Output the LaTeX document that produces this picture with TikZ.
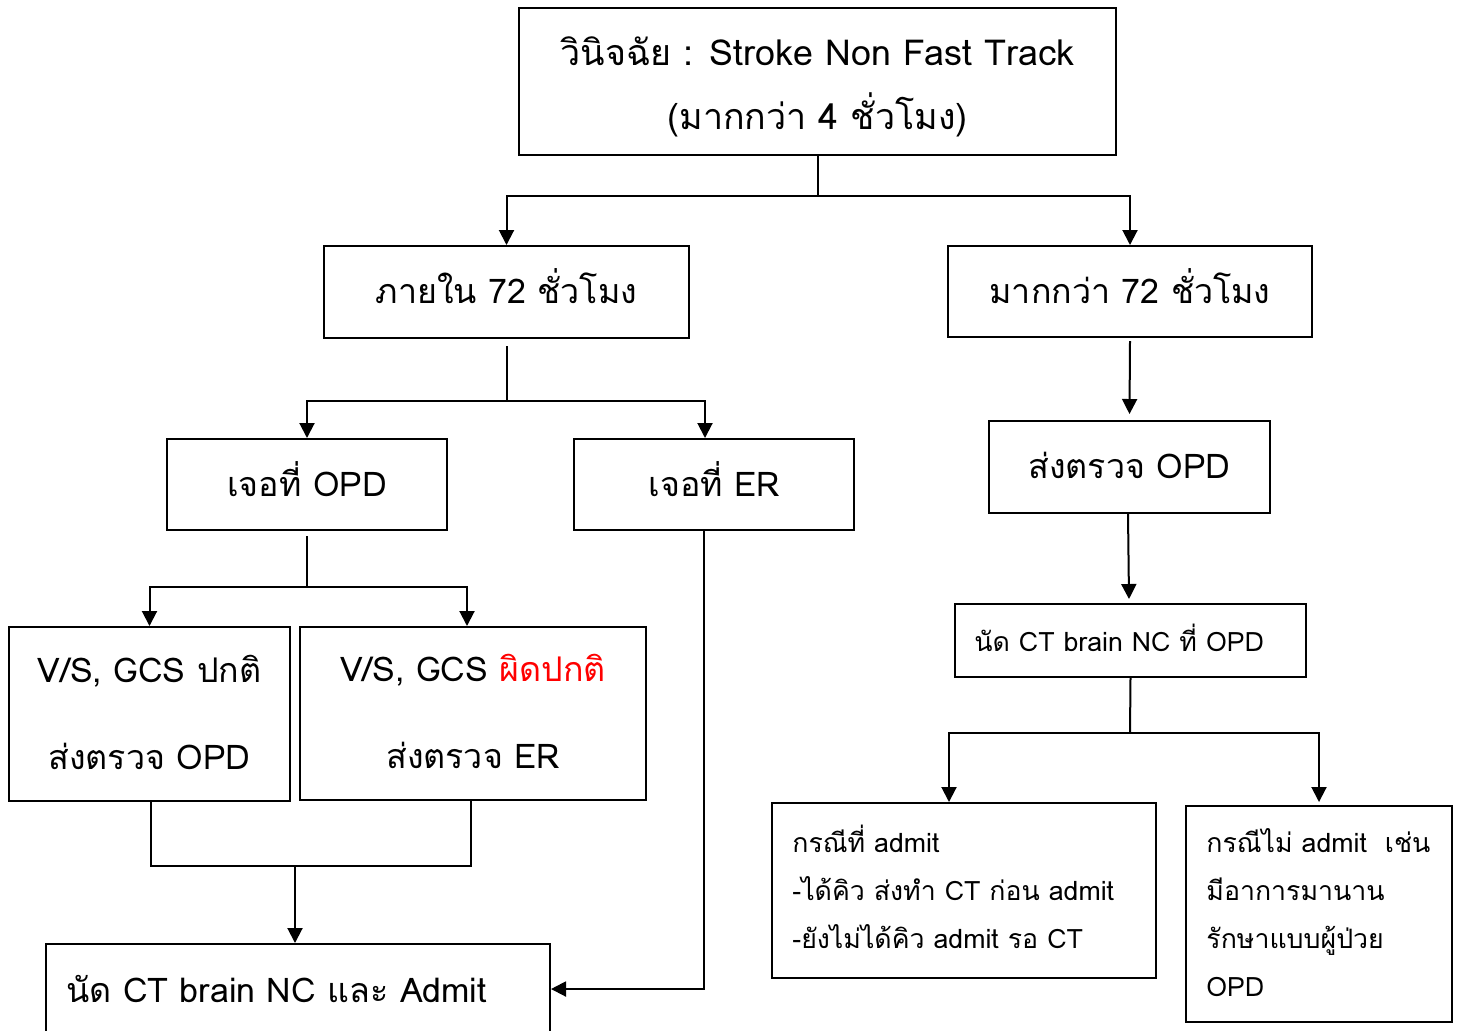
\documentclass[tikz,border=0pt]{standalone}
\usepackage{fontspec}
\setmainfont[Script=Thai]{Loma}
\usetikzlibrary{arrows.meta}
\begin{document}
\begin{tikzpicture}[x=0.5pt,y=-0.5pt,
 box/.style={draw,line width=1pt,inner sep=0pt,align=center},
 big/.style={font=\fontsize{17}{20}\selectfont,text height=14pt,text depth=2.25pt},
 small/.style={font=\fontsize{13.35}{24}\selectfont},
 txt/.style={inner sep=0pt,align=left,anchor=west},
 ctxt/.style={inner sep=0pt,align=center},
 line/.style={line width=1pt},
 arr/.style={line width=1pt,-{Triangle[width=7.5pt,length=7.5pt]}}]
\useasboundingbox (0,0) rectangle (1461,1030);
\fill[white] (0,0) rectangle (1461,1030);
\clip (0,0) rectangle (1461,1030);

\node[box,minimum width=298.5pt,minimum height=73.5pt] (title) at (817.5,81.5) {};
\node[ctxt,font=\fontsize{17.9}{32}\selectfont] (titlet) at ([yshift=-2.75pt]title.center) {วินิจฉัย : Stroke Non Fast Track\\(มากกว่า 4 ชั่วโมง)};
\node[box,big,minimum width=182.5pt,minimum height=46pt] (in72) at (506.5,292) {ภายใน 72 ชั่วโมง};
\node[box,big,minimum width=182pt,minimum height=45.5pt] (over72) at (1130,291.5) {มากกว่า 72 ชั่วโมง};
\node[box,big,minimum width=140pt,minimum height=45.5pt] (opd) at (307,484.5) {เจอที่ OPD};
\node[box,big,minimum width=140pt,minimum height=45.5pt] (er) at (714,484.5) {เจอที่ ER};
\node[box,big,minimum width=140.5pt,minimum height=46pt] (sendopd) at (1129.5,467) {ส่งตรวจ OPD};
\node[box,minimum width=175.5pt,minimum height=36.5pt] (ctopd) at (1130.5,640.5) {};
\node[txt,small] (ctopdt) at ([xshift=10pt,yshift=1.5pt]ctopd.west) {นัด CT brain NC ที่ OPD};
\node[box,minimum width=140.5pt,minimum height=87pt] (vsn) at (149.5,714) {};
\node[ctxt,font=\fontsize{17}{43.5}\selectfont] (vsnt) at ([yshift=1pt]vsn.center) {V/S, GCS ปกติ\\ส่งตรวจ OPD};
\node[box,minimum width=173pt,minimum height=86.5pt] (vsa) at (473,713.5) {};
\node[ctxt,font=\fontsize{17}{43.5}\selectfont] (vsat) at ([yshift=1pt]vsa.center) {V/S, GCS \textcolor{red}{ผิดปกติ}\\ส่งตรวจ ER};
\node[box,minimum width=252pt,minimum height=45pt] (admit) at (298,989) {};
\node[txt,font=\fontsize{17}{20}\selectfont] (admitt) at ([xshift=10.5pt]admit.west) {นัด CT brain NC และ Admit};
\node[box,minimum width=192pt,minimum height=87.5pt] (caseadmit) at (964,890.5) {};
\node[txt,small] (caseadmitt) at ([xshift=10.5pt,yshift=2pt]caseadmit.west) {กรณีที่ admit\\-ได้คิว ส่งทำ CT ก่อน admit\\-ยังไม่ได้คิว admit รอ CT};
\node[box,minimum width=133pt,minimum height=108pt] (casenot) at (1319,914) {};
\node[txt,small] (casenott) at ([xshift=10.5pt,yshift=0.5pt]casenot.west) {กรณีไม่ admit\ \ เช่น\\มีอาการมานาน\\รักษาแบบผู้ป่วย\\OPD};

% connectors
\coordinate (j1) at (817.5,196);
\draw[line] (title.south) -- (j1);
\draw[arr] (j1) -| (in72.north);
\draw[arr] (j1) -| (over72.north);

\coordinate (j2) at (504,401);
\draw[line] ([yshift=-3.5pt]in72.south) -- (in72.south |- j2);
\draw[arr] (in72.south |- j2) -| (opd.north);
\draw[arr] (in72.south |- j2) -| ([xshift=-4.5pt]er.north);

\coordinate (j3) at (305,587);
\draw[line] ([yshift=-2.5pt]opd.south) -- (opd.south |- j3);
\draw[arr] (opd.south |- j3) -| (vsn.north);
\draw[arr] (opd.south |- j3) -| ([xshift=-3pt]vsa.north);

\coordinate (j4) at (295,866);
\draw[line] ([xshift=0.75pt]vsn.south) |- (j4) -| ([xshift=-1pt]vsa.south);
\draw[arr] (j4) -- (admit.north -| j4);

\draw[arr] ([xshift=-5pt]er.south) |- (admit.east);

\draw[arr] ([yshift=-1.5pt]over72.south) -- ([yshift=3pt]sendopd.north);
\draw[arr] ([xshift=-0.75pt]sendopd.south) -- ([yshift=2pt,xshift=-0.75pt]ctopd.north);

\coordinate (j5) at (1130,733);
\draw[line] (ctopd.south) -- (j5);
\draw[arr] (j5) -| ([xshift=-7.5pt]caseadmit.north);
\draw[arr] (j5) -| ([yshift=1.5pt]casenot.north);
\end{tikzpicture}
\end{document}
